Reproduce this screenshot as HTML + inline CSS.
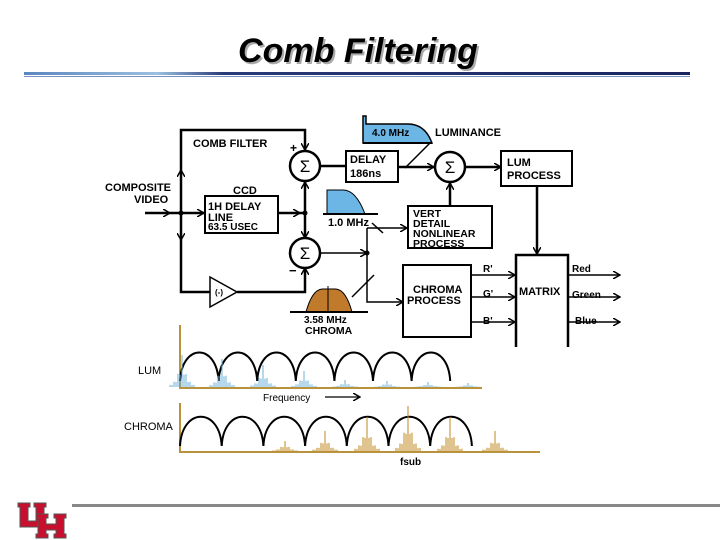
<!DOCTYPE html>
<html><head><meta charset="utf-8"><style>
html,body{margin:0;padding:0;background:#fff;width:720px;height:540px;overflow:hidden}
svg{display:block}
text{font-family:"Liberation Sans",Arial,sans-serif;font-weight:bold;fill:#000}
</style></head><body>
<svg id="s" width="720" height="540" viewBox="0 0 720 540" xmlns="http://www.w3.org/2000/svg">
<defs>
<linearGradient id="g" x1="0" x2="1" y1="0" y2="0">
<stop offset="0" stop-color="#5a86c0"/><stop offset="0.2" stop-color="#9cc0e0"/><stop offset="0.3" stop-color="#2a3a78"/><stop offset="1" stop-color="#1a2560"/></linearGradient>
<marker id="a" markerWidth="8" markerHeight="8" refX="7" refY="4" orient="auto" markerUnits="userSpaceOnUse"><path d="M0,0 L7,4 L0,8" fill="none" stroke="#000" stroke-width="1.5"/></marker>
</defs>
<text x="358" y="62" font-size="34" font-style="italic" text-anchor="middle" style="fill:#aaa" transform="translate(2,2)">Comb Filtering</text>
<text x="358" y="62" font-size="34" font-style="italic" text-anchor="middle">Comb Filtering</text>
<rect x="24" y="72" width="666" height="3" fill="url(#g)"/>
<rect x="24" y="76" width="666" height="1" fill="#7a90c0"/>

<g stroke="#000" stroke-width="2.5" fill="none">
<polyline points="305,150 305,130 181,130 181,292 210,292"/>
<polyline points="237,292 305,292 305,268" marker-end="url(#a)"/>
<polygon points="210,277 237,292 210,307" stroke-width="1.5" fill="#fff"/>
<line x1="145" y1="213" x2="205" y2="213"/>
<line x1="278" y1="213" x2="305" y2="213"/>
<line x1="305" y1="182" x2="305" y2="238"/>
<rect x="205" y="196" width="73" height="37" stroke-width="2"/>
<circle cx="305" cy="166" r="15" fill="#fff"/>
<circle cx="305" cy="253" r="15" fill="#fff"/>
<circle cx="450" cy="167" r="15" fill="#fff"/>
<line x1="320" y1="166" x2="346" y2="166"/>
<rect x="346" y="151" width="52" height="31" stroke-width="2"/>
<line x1="398" y1="167" x2="434" y2="167" marker-end="url(#a)"/>
<line x1="465" y1="167" x2="501" y2="167" marker-end="url(#a)"/>
<rect x="501" y="151" width="71" height="35" stroke-width="2"/>
<rect x="408" y="206" width="84" height="42" stroke-width="2"/>
<line x1="450" y1="206" x2="450" y2="183" marker-end="url(#a)"/>
<line x1="537" y1="186" x2="537" y2="254" marker-end="url(#a)"/>
<rect x="403" y="265" width="68" height="72" stroke-width="2"/>
<polyline points="516,347 516,255 568,255 568,347"/>
</g>
<g font-size="17" text-anchor="middle" font-family="Liberation Serif, DejaVu Serif, serif">
<text x="305" y="172" style="font-weight:normal">Σ</text>
<text x="305" y="259" style="font-weight:normal">Σ</text>
<text x="450" y="173" style="font-weight:normal">Σ</text>
</g>
<g stroke="#000" stroke-width="1.5" fill="none">
<line x1="320" y1="253" x2="367" y2="253" marker-end="url(#a)"/>
<polyline points="367,228 367,302 403,302" marker-end="url(#a)"/>
<line x1="367" y1="228" x2="407" y2="228" marker-end="url(#a)"/>
<line x1="405" y1="168" x2="430" y2="143"/>
<line x1="372" y1="223" x2="383" y2="233"/>
<line x1="352" y1="297" x2="374" y2="275"/>
<line x1="471" y1="275" x2="515" y2="275" marker-end="url(#a)"/>
<line x1="471" y1="297" x2="515" y2="297" marker-end="url(#a)"/>
<line x1="471" y1="322" x2="515" y2="322" marker-end="url(#a)"/>
<line x1="568" y1="275" x2="620" y2="275" marker-end="url(#a)"/>
<line x1="568" y1="297" x2="620" y2="297" marker-end="url(#a)"/>
<line x1="568" y1="322" x2="620" y2="322" marker-end="url(#a)"/>
<line x1="305" y1="130" x2="305" y2="150" marker-end="url(#a)"/>
<line x1="305" y1="213" x2="305" y2="182" marker-end="url(#a)"/>
<line x1="305" y1="213" x2="305" y2="238" marker-end="url(#a)"/>
<line x1="181" y1="213" x2="181" y2="170" marker-end="url(#a)"/>
<line x1="181" y1="213" x2="181" y2="240" marker-end="url(#a)"/>
<line x1="145" y1="213" x2="170" y2="213" marker-end="url(#a)"/>
<line x1="181" y1="213" x2="204" y2="213" marker-end="url(#a)"/>
<line x1="278" y1="213" x2="300" y2="213" marker-end="url(#a)"/>
</g>
<circle cx="305" cy="213" r="2.5"/><circle cx="181" cy="213" r="2.5"/><circle cx="367" cy="253" r="2.5"/>
<path d="M363,143 V116 H366 V124 H408 Q425,124 432,143 Z" fill="#6cb6e6" stroke="#000" stroke-width="1.5"/>
<line x1="363" y1="143" x2="432" y2="143" stroke="#000" stroke-width="2"/>
<path d="M327,214 V190 H343 Q356,190 365,214 Z" fill="#6cb6e6" stroke="#000" stroke-width="1"/>
<line x1="323" y1="214" x2="378" y2="214" stroke="#000" stroke-width="2"/>
<path d="M306,312 Q312,290 322,289 H336 Q346,290 352,312 Z" fill="#c07a2c" stroke="#000" stroke-width="1"/>
<line x1="290" y1="312" x2="368" y2="312" stroke="#000" stroke-width="2"/>
<line x1="328" y1="286" x2="328" y2="312" stroke="#000" stroke-width="1"/>
<g font-size="11">
<text x="193" y="147">COMB  FILTER</text>
<text x="290" y="152" font-size="12">+</text>
<text x="289" y="275" font-size="13">−</text>
<text x="105" y="191">COMPOSITE</text><text x="134" y="203">VIDEO</text>
<text x="233" y="194">CCD</text>
<text x="208" y="210">1H DELAY</text><text x="208" y="221">LINE</text><text x="208" y="230" font-size="10">63.5 USEC</text>
<text x="350" y="163">DELAY</text><text x="350" y="177">186ns</text>
<text x="372" y="136" font-size="10">4.0 MHz</text>
<text x="435" y="136">LUMINANCE</text>
<text x="507" y="166">LUM</text><text x="507" y="179">PROCESS</text>
<text x="413" y="217" font-size="10.5">VERT</text><text x="413" y="227" font-size="10.5">DETAIL</text><text x="413" y="237" font-size="10.5">NONLINEAR</text><text x="413" y="247" font-size="10.5">PROCESS</text>
<text x="328" y="226">1.0 MHz</text>
<text x="304" y="323" font-size="10">3.58 MHz</text><text x="305" y="334" font-size="10.5">CHROMA</text>
<text x="413" y="293">CHROMA</text><text x="407" y="304">PROCESS</text>
<text x="519" y="295">MATRIX</text>
<text x="483" y="272" font-size="10">R'</text><text x="483" y="297" font-size="10">G'</text><text x="483" y="324" font-size="10">B'</text>
<text x="572" y="272" font-size="10">Red</text><text x="572" y="298" font-size="10">Green</text><text x="575" y="324" font-size="10">Blue</text>
<text x="215" y="295" font-size="8">(-)</text>
<text x="138" y="374" style="font-weight:normal">LUM</text>
<text x="124" y="430" style="font-weight:normal">CHROMA</text>
<text x="263" y="401" font-size="10" style="font-weight:normal">Frequency</text>
<text x="400" y="465" font-size="10">fsub</text>
</g>
<line x1="325" y1="397" x2="360" y2="397" stroke="#000" stroke-width="1.2" marker-end="url(#a)"/>
<g stroke="#b8923c" stroke-width="2" fill="none">
<polyline points="180,325 180,388 482,388"/>
<polyline points="180,403 180,452 540,452"/>
</g>
<g id="sp"></g>
<g fill="#c8102e" stroke="#555" stroke-width="1">
<path d="M18,503 h12 v4 h-2 v14 h8 v-14 h-2 v-4 h12 v4 h-2 v20 h-24 v-20 h-2 z"/>
<path d="M36,514 h12 v4 h-2 v6 h10 v-6 h-2 v-4 h12 v4 h-2 v16 h2 v4 h-12 v-4 h2 v-4 h-10 v4 h2 v4 h-12 v-4 h2 v-16 h-2 z"/>
</g>
<rect x="72" y="504" width="648" height="3" fill="#888"/>
</svg>
<script>
var ns="http://www.w3.org/2000/svg",g=document.getElementById("sp");
function el(t,a){var e=document.createElementNS(ns,t);for(var k in a)e.setAttribute(k,a[k]);g.appendChild(e);}
function arches(x0,w,n,top,bot){var d="";for(var i=0;i<n;i++){var a=x0+i*w;d+="M"+a+","+bot+" C"+(a+2)+","+(top-4)+" "+(a+w-2)+","+(top-4)+" "+(a+w)+","+bot+" ";}el("path",{d:d,fill:"none",stroke:"#000","stroke-width":2});}
arches(180,38.6,7,347,381);
arches(180,41.7,7,411,446);
function spikes(cx,h,base,col){for(var j=-6;j<=6;j++){var hh=h*Math.exp(-Math.abs(j)*0.45);if(j%2)hh*=0.6;el("line",{x1:cx+j*2,x2:cx+j*2,y1:base,y2:base-hh,stroke:col,"stroke-width":1});}}
var L=[[182,32],[222,28],[263,22],[304,16],[345,7],[387,6],[428,5],[468,4]];
L.forEach(function(p){spikes(p[0],p[1],387,"#6cb0d8")});
var C=[[285,10],[325,20],[367,34],[408,45],[450,34],[495,20]];
C.forEach(function(p){spikes(p[0],p[1],451,"#c08a20")});
</script>
</body></html>
